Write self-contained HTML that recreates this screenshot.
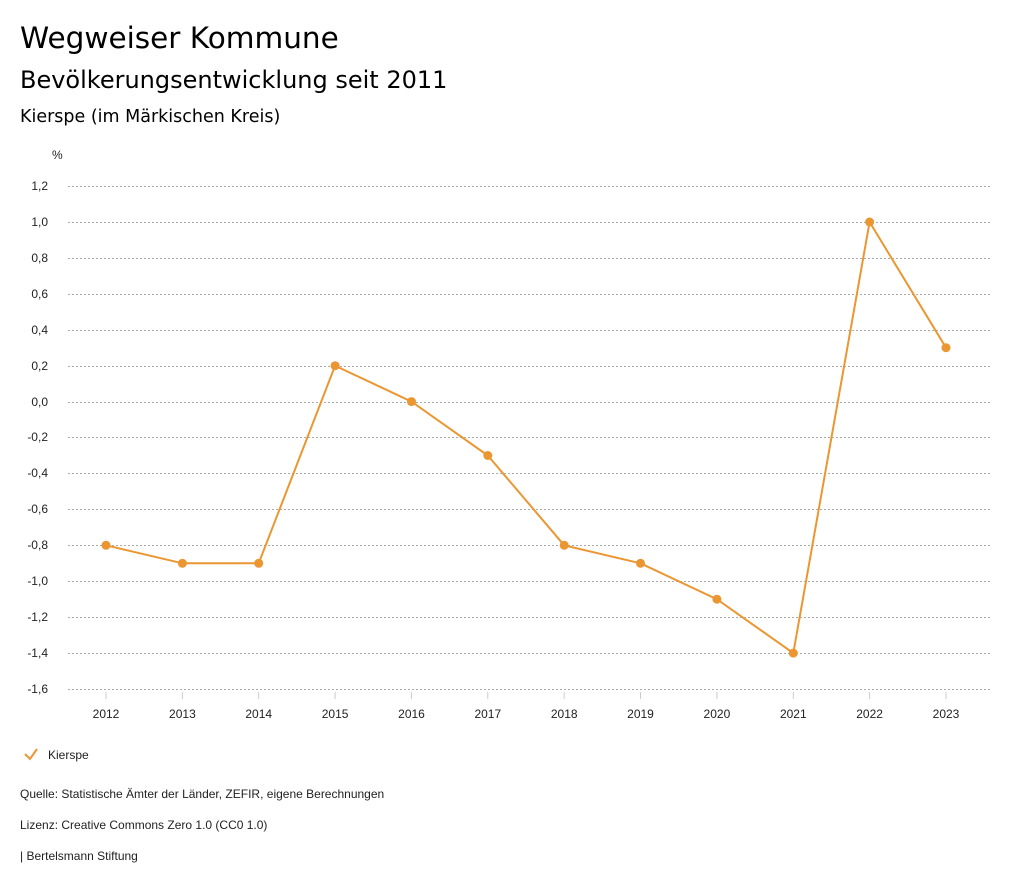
<!DOCTYPE html>
<html><head><meta charset="utf-8"><style>
body{margin:0;background:#fff;font-family:"Liberation Sans",sans-serif;color:#000}
svg text{font-family:"Liberation Sans",sans-serif}
svg text.h{font-family:"DejaVu Sans",sans-serif}
</style></head><body>
<svg width="1024" height="888" xmlns="http://www.w3.org/2000/svg">
<text class="h" x="20" y="48" font-size="29.5">Wegweiser Kommune</text>
<text class="h" x="20" y="88" font-size="24">Bevölkerungsentwicklung seit 2011</text>
<text class="h" x="20" y="122" font-size="17.5">Kierspe (im Märkischen Kreis)</text>
<text x="52" y="159" font-size="12" fill="#222">%</text>
<g stroke="#aaa" stroke-width="1" stroke-dasharray="2,2">
<line x1="68" x2="990" y1="186.5" y2="186.5"/><line x1="68" x2="990" y1="222.5" y2="222.5"/>
<line x1="68" x2="990" y1="258.5" y2="258.5"/><line x1="68" x2="990" y1="294.5" y2="294.5"/>
<line x1="68" x2="990" y1="330.5" y2="330.5"/><line x1="68" x2="990" y1="366.5" y2="366.5"/>
<line x1="68" x2="990" y1="402.5" y2="402.5"/><line x1="68" x2="990" y1="437.5" y2="437.5"/>
<line x1="68" x2="990" y1="473.5" y2="473.5"/><line x1="68" x2="990" y1="509.5" y2="509.5"/>
<line x1="68" x2="990" y1="545.5" y2="545.5"/><line x1="68" x2="990" y1="581.5" y2="581.5"/>
<line x1="68" x2="990" y1="617.5" y2="617.5"/><line x1="68" x2="990" y1="653.5" y2="653.5"/>
<line x1="68" x2="990" y1="689.5" y2="689.5"/>
</g>
<g font-size="12" fill="#222" text-anchor="end">
<text x="48" y="190">1,2</text><text x="48" y="226">1,0</text><text x="48" y="262">0,8</text>
<text x="48" y="298">0,6</text><text x="48" y="334">0,4</text><text x="48" y="370">0,2</text>
<text x="48" y="406">0,0</text><text x="48" y="441">-0,2</text><text x="48" y="477">-0,4</text>
<text x="48" y="513">-0,6</text><text x="48" y="549">-0,8</text><text x="48" y="585">-1,0</text>
<text x="48" y="621">-1,2</text><text x="48" y="657">-1,4</text><text x="48" y="693">-1,6</text>
</g>
<g stroke="#ccc"><line x1="106" x2="106" y1="692" y2="699"/><line x1="182.4" x2="182.4" y1="692" y2="699"/><line x1="258.7" x2="258.7" y1="692" y2="699"/><line x1="335.1" x2="335.1" y1="692" y2="699"/><line x1="411.5" x2="411.5" y1="692" y2="699"/><line x1="487.8" x2="487.8" y1="692" y2="699"/><line x1="564.2" x2="564.2" y1="692" y2="699"/><line x1="640.5" x2="640.5" y1="692" y2="699"/><line x1="716.9" x2="716.9" y1="692" y2="699"/><line x1="793.3" x2="793.3" y1="692" y2="699"/><line x1="869.6" x2="869.6" y1="692" y2="699"/><line x1="946" x2="946" y1="692" y2="699"/></g>
<g font-size="12" fill="#222" text-anchor="middle">
<text x="106" y="718">2012</text><text x="182.4" y="718">2013</text><text x="258.7" y="718">2014</text><text x="335.1" y="718">2015</text><text x="411.5" y="718">2016</text><text x="487.8" y="718">2017</text><text x="564.2" y="718">2018</text><text x="640.5" y="718">2019</text><text x="716.9" y="718">2020</text><text x="793.3" y="718">2021</text><text x="869.6" y="718">2022</text><text x="946" y="718">2023</text>
</g>
<polyline fill="none" stroke="#ec9632" stroke-width="2" points="106,545.3 182.4,563.3 258.7,563.3 335.1,365.7 411.5,401.6 487.8,455.5 564.2,545.3 640.5,563.3 716.9,599.2 793.3,653.1 869.6,222 946,347.7"/>
<g fill="#ec9632"><circle cx="106" cy="545.3" r="4.5"/><circle cx="182.4" cy="563.3" r="4.5"/><circle cx="258.7" cy="563.3" r="4.5"/><circle cx="335.1" cy="365.7" r="4.5"/><circle cx="411.5" cy="401.6" r="4.5"/><circle cx="487.8" cy="455.5" r="4.5"/><circle cx="564.2" cy="545.3" r="4.5"/><circle cx="640.5" cy="563.3" r="4.5"/><circle cx="716.9" cy="599.2" r="4.5"/><circle cx="793.3" cy="653.1" r="4.5"/><circle cx="869.6" cy="222" r="4.5"/><circle cx="946" cy="347.7" r="4.5"/></g>
<polyline fill="none" stroke="#ec9632" stroke-width="2" points="25,754 30,759 37,749"/>
<text x="48" y="759" font-size="12" fill="#222">Kierspe</text>
<text x="20" y="798" font-size="12" fill="#222">Quelle: Statistische Ämter der Länder, ZEFIR, eigene Berechnungen</text>
<text x="20" y="829" font-size="12" fill="#222">Lizenz: Creative Commons Zero 1.0 (CC0 1.0)</text>
<text x="20" y="860" font-size="12" fill="#222">| Bertelsmann Stiftung</text>
</svg>
</body></html>
